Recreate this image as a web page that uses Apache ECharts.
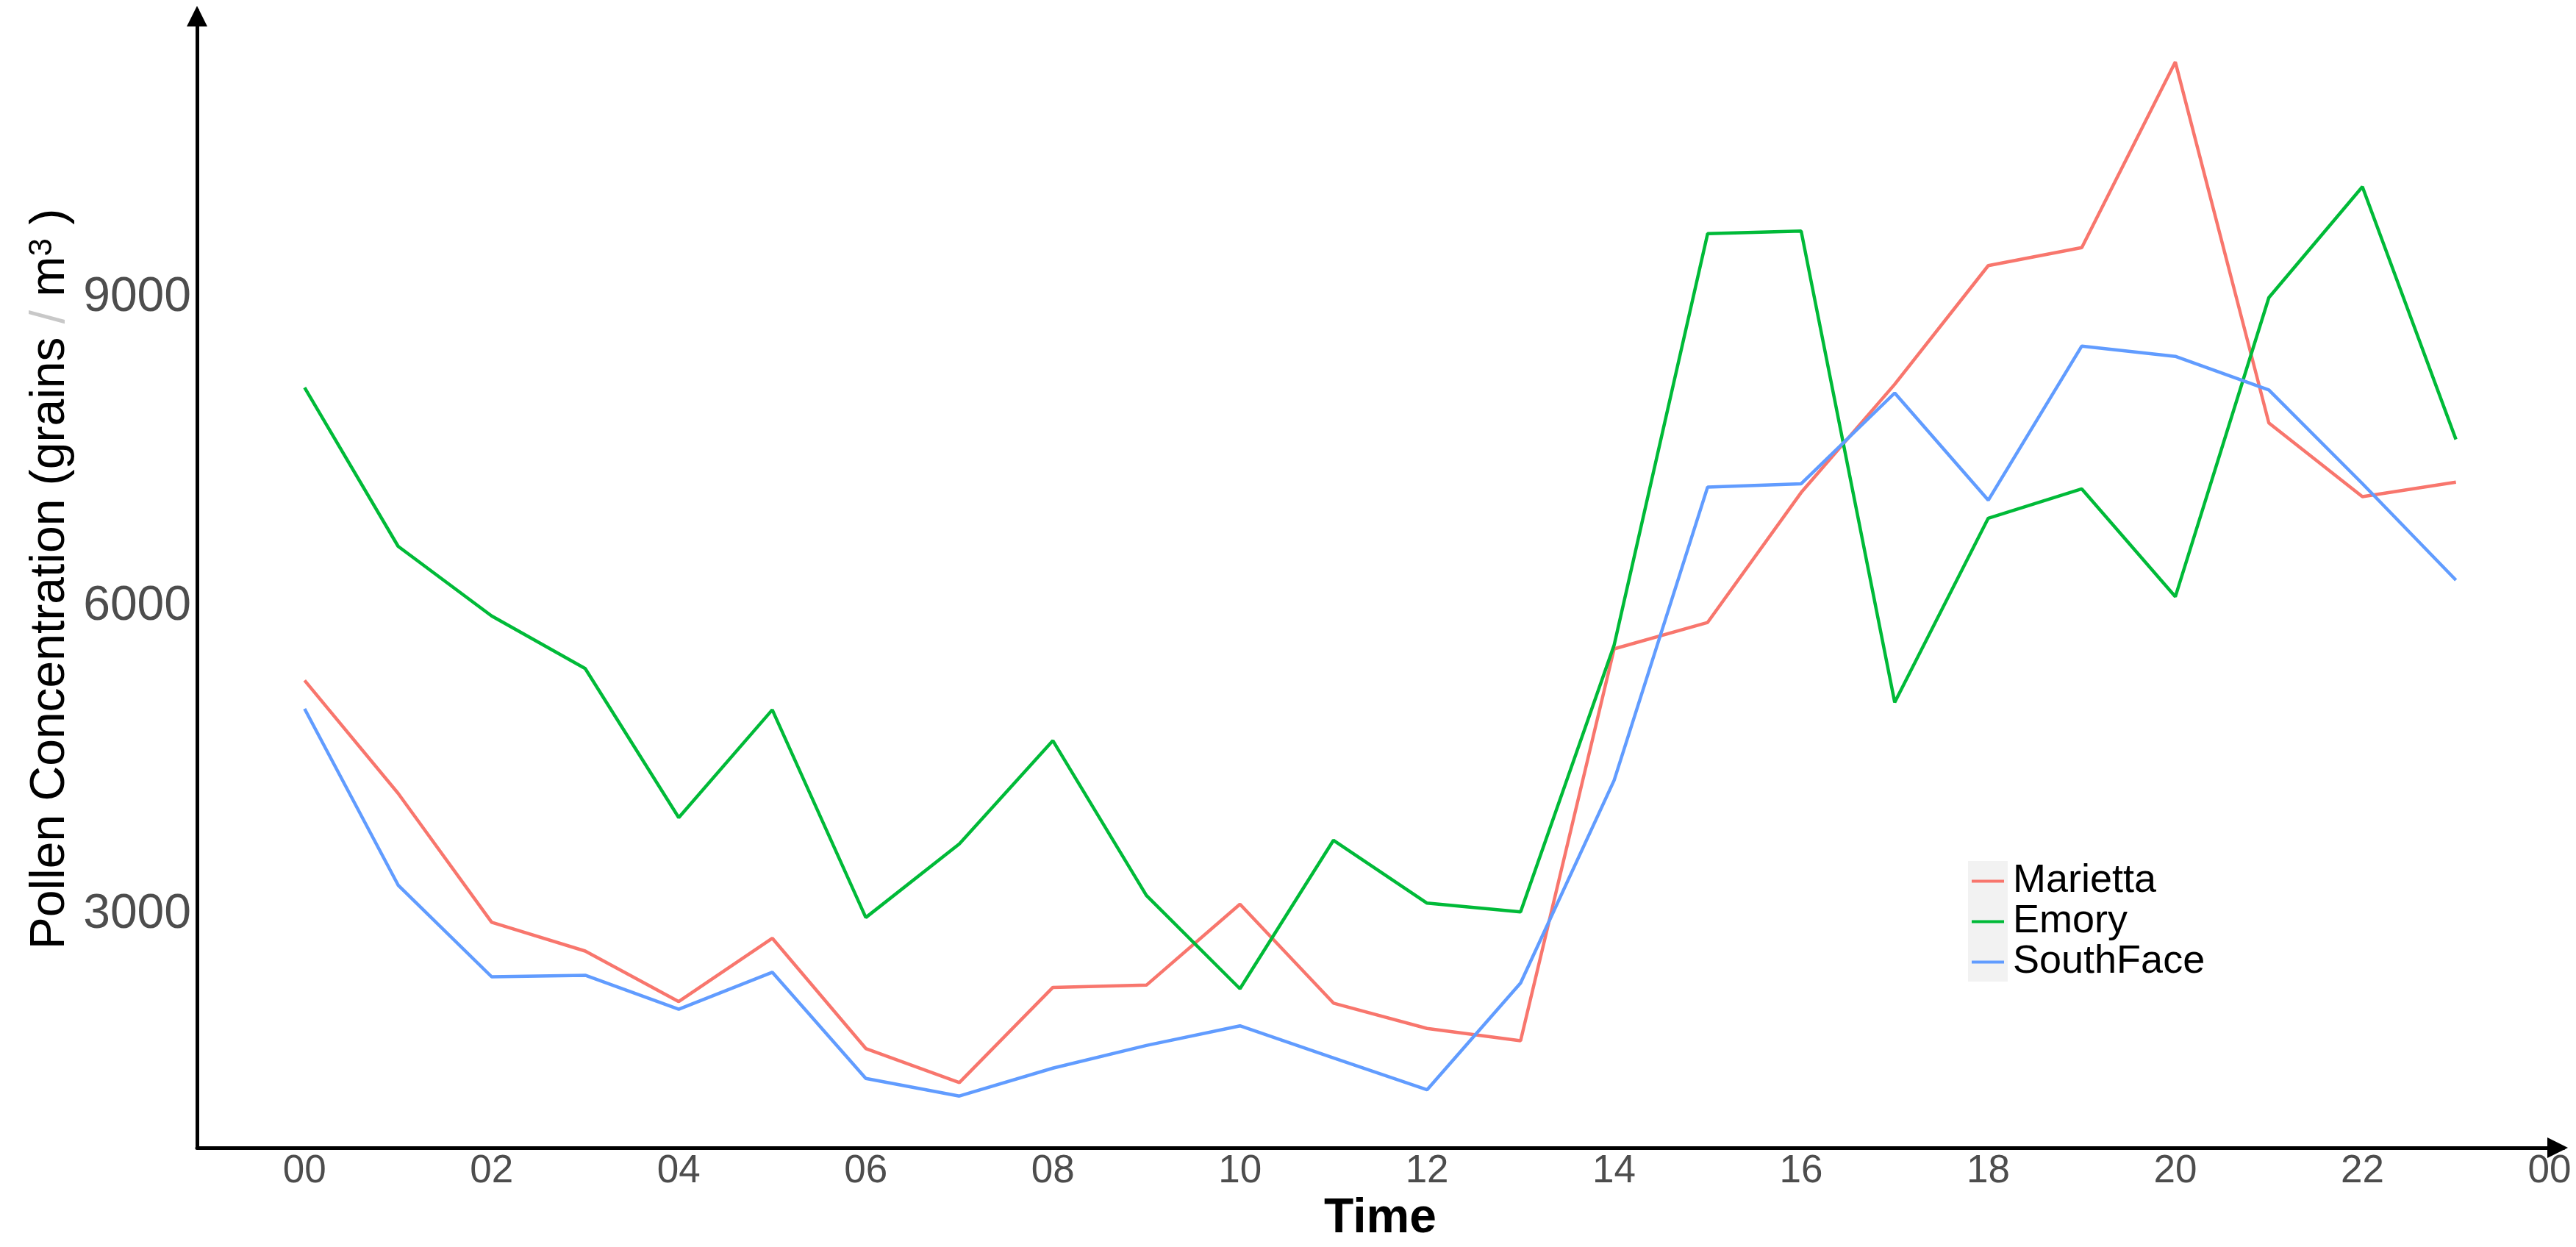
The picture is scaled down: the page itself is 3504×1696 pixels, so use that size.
<!DOCTYPE html>
<html>
<head>
<meta charset="utf-8">
<script src="https://cdn.jsdelivr.net/npm/echarts@6/dist/echarts.min.js"></script>
<style>
  html, body { margin: 0; padding: 0; background: #fff; }
  #chart { width: 3504px; height: 1696px; }
</style>
</head>
<body>
<div id="chart"></div>
<script>
// hours of the day
const hours = [0, 1, 2, 3, 4, 5, 6, 7, 8, 9, 10, 11, 12, 13, 14, 15, 16, 17, 18, 19, 20, 21, 22, 23]
// pollen concentration per site
const marietta = [5278, 4180, 2927, 2647, 2156, 2772, 1700, 1369, 2294, 2316, 3103, 2141, 1895, 1775, 5584, 5841, 7104, 8156, 9309, 9484, 11288, 7780, 7064, 7204]
const emory = [8124, 6581, 5904, 5393, 3944, 4992, 2973, 3689, 4692, 3188, 2281, 3724, 3113, 3028, 5620, 9619, 9644, 5064, 6854, 7139, 6091, 8998, 10075, 7620]
const southFace = [5002, 3288, 2397, 2412, 2081, 2441, 1409, 1238, 1509, 1730, 1920, 1609, 1299, 2336, 4306, 7157, 7189, 8071, 7029, 8527, 8427, 8101, 7190, 6252]
// tick labels
const xTicks = [0, 2, 4, 6, 8, 10, 12, 14, 16, 18, 20, 22, 24]
const xTickLabels = ['00', '02', '04', '06', '08', '10', '12', '14', '16', '18', '20', '22', '00']
const yTicks = [3000, 6000, 9000]

const seriesNames = ['Marietta', 'Emory', 'SouthFace']
const seriesColors = ['#F8766D', '#00BA38', '#619CFF']
const font = 'Liberation Sans, Arial, sans-serif'

// ggplot style 5% expansion
const allValues = marietta.concat(emory, southFace)
const yLo = Math.min(...allValues)
const yHi = Math.max(...allValues)
const yPad = (yHi - yLo) * 0.05
const xPad = (hours[hours.length - 1] - hours[0]) * 0.05

const toPairs = (vals) => hours.map((h, i) => [h, vals[i]])

// axis line with a closed arrow head at the end
const arrowLine = {
  show: true,
  onZero: false,
  lineStyle: { color: '#000', width: 5 },
  symbol: ['none', 'triangle'],
  symbolSize: [28, 28],
  symbolOffset: [0, -8]
}

const chart = echarts.init(document.getElementById('chart'))
chart.setOption({
  animation: false,
  backgroundColor: '#fff',
  textStyle: { fontFamily: font },
  grid: { left: 268, right: 17, top: 14, bottom: 135 },
  xAxis: {
    type: 'value',
    min: hours[0] - xPad,
    max: hours[hours.length - 1] + xPad,
    name: 'Time',
    nameLocation: 'middle',
    nameGap: 58,
    nameTextStyle: { fontSize: 66, fontWeight: 'bold', color: '#000', fontFamily: font },
    axisLine: arrowLine,
    axisTick: { show: false },
    splitLine: { show: false },
    axisLabel: {
      customValues: xTicks,
      formatter: (v) => xTickLabels[xTicks.indexOf(v)],
      fontSize: 53,
      color: '#4D4D4D',
      margin: 6,
      fontFamily: font
    }
  },
  yAxis: {
    type: 'value',
    min: yLo - yPad,
    max: yHi + yPad,
    name: 'Pollen Concentration (grains{sl| / }m{sup|3}{p| )}',
    nameLocation: 'middle',
    nameGap: 163,
    nameTextStyle: {
      fontSize: 66,
      color: '#000',
      fontFamily: font,
      rich: {
        sl: { fontSize: 66, color: '#C8C8C8', fontFamily: font },
        sup: { fontSize: 44, color: '#000', verticalAlign: 'top', fontFamily: font },
        p: { fontSize: 66, color: '#000', fontFamily: font }
      }
    },
    axisLine: arrowLine,
    axisTick: { show: false },
    splitLine: { show: false },
    axisLabel: {
      customValues: yTicks,
      formatter: (v) => String(v),
      fontSize: 66,
      color: '#4D4D4D',
      margin: 8,
      fontFamily: font
    }
  },
  legend: {
    orient: 'vertical',
    left: 2682,
    top: 1171,
    padding: 0,
    itemGap: 0,
    itemWidth: 44,
    itemHeight: 4,
    icon: 'rect',
    textStyle: { fontSize: 54, lineHeight: 55, color: '#000', fontFamily: font, padding: [0, 0, 0, 7] },
    data: seriesNames
  },
  graphic: [{
    type: 'rect',
    z: 0,
    shape: { x: 2677, y: 1171, width: 54, height: 164 },
    style: { fill: '#F2F2F2' }
  }],
  series: [marietta, emory, southFace].map((vals, i) => ({
    name: seriesNames[i],
    type: 'line',
    data: toPairs(vals),
    showSymbol: false,
    color: seriesColors[i],
    lineStyle: { width: 4.5, color: seriesColors[i] }
  }))
})
</script>
</body>
</html>
